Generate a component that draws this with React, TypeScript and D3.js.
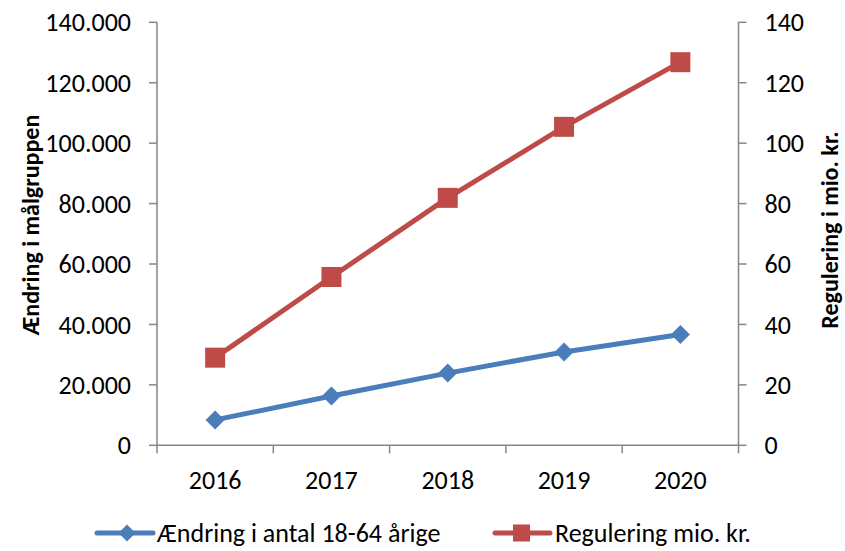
import React from "react";
import * as d3 from "d3";

const years = ["2016", "2017", "2018", "2019", "2020"];
const changeCount = [8400, 16300, 23900, 30900, 36700];
const regulation = [29.0, 55.7, 81.9, 105.4, 126.8];
const leftTicks = [0, 20000, 40000, 60000, 80000, 100000, 120000, 140000];
const rightTicks = [0, 20, 40, 60, 80, 100, 120, 140];
const seriesNames = ["Ændring i antal 18-64 årige", "Regulering mio. kr."];

const W = 845;
const H = 551;
const L = 157;
const R = 738.5;
const T = 22.3;
const B = 445.3;
const BLUE = "#4A7EBB";
const RED = "#BE4B48";
const AXIS = "#868686";
const FONT = "Carlito, Calibri, 'Liberation Sans', Arial, sans-serif";

export default function App() {
  const x = d3.scaleBand<string>().domain(years).range([L, R]).padding(0);
  const yL = d3.scaleLinear().domain([0, 140000]).range([B, T]);
  const yR = d3.scaleLinear().domain([0, 140]).range([B, T]);
  const cx = (d: string) => (x(d) as number) + x.bandwidth() / 2;
  const fmtL = (v: number) => d3.format(",")(v).replace(/,/g, ".");

  const blueLine = d3
    .line<number>()
    .x((_, i) => cx(years[i]))
    .y((v) => yL(v))(changeCount) as string;
  const redLine = d3
    .line<number>()
    .x((_, i) => cx(years[i]))
    .y((v) => yR(v))(regulation) as string;

  const diamond = (px: number, py: number, r: number) =>
    `M${px},${py - r}L${px + r},${py}L${px},${py + r}L${px - r},${py}Z`;

  const fs = 26;
  const legY = 533;

  return (
    <svg
      width={W}
      height={H}
      style={{ position: "absolute", left: 0, top: 0, background: "#fff" }}
      fontFamily={FONT}
    >
      {/* left axis */}
      <line x1={L} x2={L} y1={T} y2={B} stroke={AXIS} strokeWidth={1.5} />
      {leftTicks.map((t) => (
        <g key={"l" + t}>
          <line x1={L - 8} x2={L} y1={yL(t)} y2={yL(t)} stroke={AXIS} strokeWidth={1.5} />
          <text x={L - 26} y={yL(t)} dy="0.35em" textAnchor="end" fontSize={fs} fill="#000">
            {fmtL(t)}
          </text>
        </g>
      ))}
      {/* right axis */}
      <line x1={R} x2={R} y1={T} y2={B} stroke={AXIS} strokeWidth={1.5} />
      {rightTicks.map((t) => (
        <g key={"r" + t}>
          <line x1={R} x2={R + 8} y1={yR(t)} y2={yR(t)} stroke={AXIS} strokeWidth={1.5} />
          <text x={R + 26} y={yR(t)} dy="0.35em" textAnchor="start" fontSize={fs} fill="#000">
            {t}
          </text>
        </g>
      ))}
      {/* x axis */}
      <line x1={L} x2={R} y1={B} y2={B} stroke={AXIS} strokeWidth={1.5} />
      {years.map((yr) => (
        <line
          key={"xt" + yr}
          x1={x(yr) as number}
          x2={x(yr) as number}
          y1={B}
          y2={B + 8}
          stroke={AXIS}
          strokeWidth={1.5}
        />
      ))}
      <line x1={R} x2={R} y1={B} y2={B + 8} stroke={AXIS} strokeWidth={1.5} />
      {years.map((yr) => (
        <text key={"xl" + yr} x={cx(yr)} y={480} dy="0.35em" textAnchor="middle" fontSize={fs}>
          {yr}
        </text>
      ))}

      {/* axis titles */}
      <text
        transform={`translate(39,225) rotate(-90)`}
        textAnchor="middle"
        fontSize={24}
        fontWeight="bold"
      >
        Ændring i målgruppen
      </text>
      <text
        transform={`translate(838,230) rotate(-90)`}
        textAnchor="middle"
        fontSize={24}
        fontWeight="bold"
      >
        Regulering i mio. kr.
      </text>

      {/* series */}
      <path d={redLine} fill="none" stroke={RED} strokeWidth={5} strokeLinejoin="round" />
      {regulation.map((v, i) => (
        <rect key={"rs" + i} x={cx(years[i]) - 10} y={yR(v) - 10} width={20} height={20} fill={RED} />
      ))}
      <path d={blueLine} fill="none" stroke={BLUE} strokeWidth={5} strokeLinejoin="round" />
      {changeCount.map((v, i) => (
        <path key={"bd" + i} d={diamond(cx(years[i]), yL(v), 9.5)} fill={BLUE} />
      ))}

      {/* legend */}
      <line x1={97} x2={153} y1={legY} y2={legY} stroke={BLUE} strokeWidth={5} strokeLinecap="round" />
      <path d={diamond(127, legY, 8.5)} fill={BLUE} />
      <text x={157} y={legY} dy="0.35em" fontSize={fs}>
        {seriesNames[0]}
      </text>
      <line x1={495} x2={550} y1={legY} y2={legY} stroke={RED} strokeWidth={5} strokeLinecap="round" />
      <rect x={513} y={legY - 8.5} width={17} height={17} fill={RED} />
      <text x={555} y={legY} dy="0.35em" fontSize={fs}>
        {seriesNames[1]}
      </text>
    </svg>
  );
}
